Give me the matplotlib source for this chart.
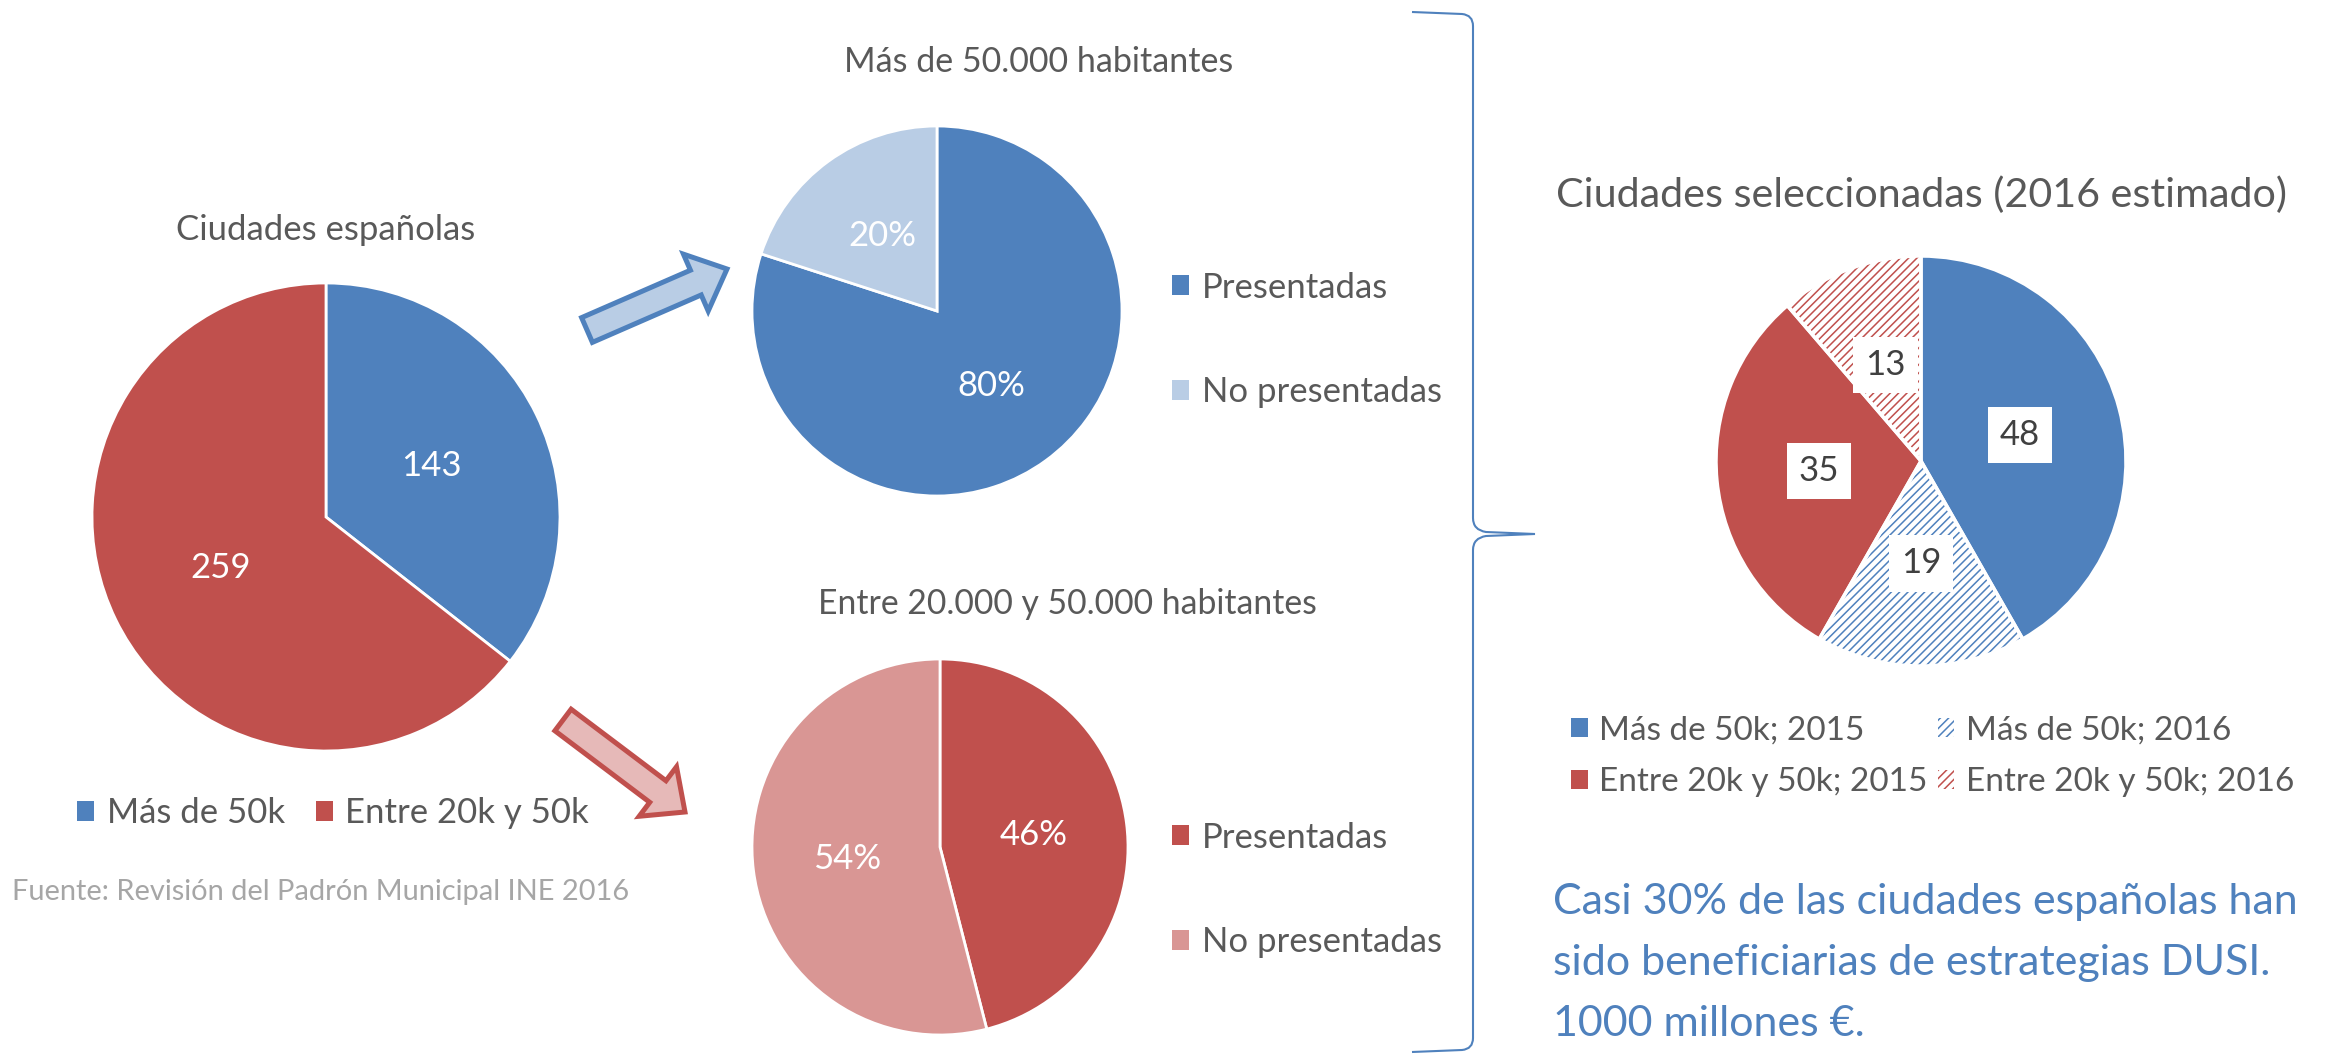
import matplotlib
matplotlib.use('Agg')
import matplotlib.pyplot as plt
from matplotlib.patches import FancyArrow, Patch, PathPatch
from matplotlib.path import Path

plt.rcParams['font.family'] = ['Lato', 'DejaVu Sans']
plt.rcParams['hatch.linewidth'] = 1.1

# ---- data ----
spain_title = 'Ciudades españolas'
spain_labels = ['Más de 50k', 'Entre 20k y 50k']
spain_counts = [143, 259]

big_title = 'Más de 50.000 habitantes'
big_labels = ['Presentadas', 'No presentadas']
big_pct = [80, 20]

mid_title = 'Entre 20.000 y 50.000 habitantes'
mid_labels = ['Presentadas', 'No presentadas']
mid_pct = [46, 54]

sel_title = 'Ciudades seleccionadas (2016 estimado)'
sel_labels = ['Más de 50k; 2015', 'Más de 50k; 2016',
              'Entre 20k y 50k; 2015', 'Entre 20k y 50k; 2016']
sel_counts = [48, 19, 35, 13]

note_lines = ['Casi 30% de las ciudades españolas han',
              'sido beneficiarias de estrategias DUSI.',
              '1000 millones €.']
source = 'Fuente: Revisión del Padrón Municipal INE 2016'

# ---- style ----
BLUE = '#4F81BD'
LBLUE = '#B9CDE5'
RED = '#C0504D'
LRED = '#D99694'
GREY = '#595959'
FS = 25

W, H = 2331, 1056
fig = plt.figure(figsize=(W / 100, H / 100), dpi=100)


def pie_axes(cx, cy, r, m=1.03):
    # square axes centred on (cx, cy) in pixels, pie radius r
    rr = r * m
    return fig.add_axes([(cx - rr) / W, 1 - (cy + rr) / H, 2 * rr / W, 2 * rr / H])


def finish(ax, m=1.03):
    ax.set_xlim(-m, m)
    ax.set_ylim(-m, m)
    ax.set_aspect('equal')
    ax.axis('off')


# left pie
ax1 = pie_axes(326, 517, 234)
tot1 = sum(spain_counts)
ax1.pie(spain_counts, colors=[BLUE, RED], startangle=90, counterclock=False,
        autopct=lambda p: f'{p * tot1 / 100:.0f}', pctdistance=0.5,
        textprops=dict(color='white', fontsize=FS),
        wedgeprops=dict(edgecolor='white', linewidth=2))
finish(ax1)

# top middle pie
ax2 = pie_axes(937, 311, 185)
ax2.pie(big_pct, colors=[BLUE, LBLUE], startangle=90, counterclock=False,
        autopct='%1.0f%%', pctdistance=0.5,
        textprops=dict(color='white', fontsize=FS),
        wedgeprops=dict(edgecolor='white', linewidth=2))
finish(ax2)

# bottom middle pie
ax3 = pie_axes(940, 847, 188)
ax3.pie(mid_pct, colors=[RED, LRED], startangle=90, counterclock=False,
        autopct='%1.0f%%', pctdistance=0.5,
        textprops=dict(color='white', fontsize=FS),
        wedgeprops=dict(edgecolor='white', linewidth=2))
finish(ax3)

# right pie, 2016 slices hatched
sel_colors = [BLUE, BLUE, RED, RED]
sel_hatch = [None, '////', None, '////']
ax4 = pie_axes(1921, 461, 205)
tot4 = sum(sel_counts)
wedges, _, autot = ax4.pie(sel_counts, colors=sel_colors, startangle=90, counterclock=False,
                           autopct=lambda p: f'{p * tot4 / 100:.0f}', pctdistance=0.5,
                           textprops=dict(color='#404040', fontsize=FS),
                           wedgeprops=dict(linewidth=0))
for w, c, h in zip(wedges, sel_colors, sel_hatch):
    if h:
        w.set_facecolor('white')
        w.set_edgecolor(c)
        w.set_hatch(h)
for t in autot:
    t.set_bbox(dict(boxstyle='square,pad=0.35', fc='white', ec='none'))
# white separators on top
ax4.pie(sel_counts, colors=['none'] * 4, startangle=90, counterclock=False,
        wedgeprops=dict(edgecolor='white', linewidth=2.5))
finish(ax4)

# overlay in pixel coords for annotations
ov = fig.add_axes([0, 0, 1, 1])
ov.set_xlim(0, W)
ov.set_ylim(H, 0)
ov.axis('off')

ov.text(326, 230, spain_title, ha='center', va='center', fontsize=25, color=GREY)
ov.text(1039, 62, big_title, ha='center', va='center', fontsize=24.5, color=GREY)
ov.text(1067, 604, mid_title, ha='center', va='center', fontsize=24.3, color=GREY)
ov.text(1921, 195, sel_title, ha='center', va='center', fontsize=29.7, color=GREY)
ov.text(12, 892, source, ha='left', va='center', fontsize=20.9, color='#A6A6A6')
for i, line in enumerate(note_lines):
    ov.text(1553, 902 + 61 * i, line, ha='left', va='center', fontsize=31, color=BLUE)

# arrows
ov.add_patch(FancyArrow(587, 330, 140, -61, width=27, head_width=62, head_length=34,
                        length_includes_head=True, fc=LBLUE, ec=BLUE, lw=3.6, joinstyle='miter'))
ov.add_patch(FancyArrow(563, 720, 122, 92, width=27, head_width=62, head_length=34,
                        length_includes_head=True, fc='#E6B9B8', ec=RED, lw=3.6, joinstyle='miter'))

# curly brace
M, L, C = Path.MOVETO, Path.LINETO, Path.CURVE3
verts = [(1412, 12), (1462, 14), (1473, 15), (1473, 26), (1473, 518), (1473, 530), (1486, 532),
         (1535, 534), (1486, 536), (1473, 538), (1473, 550), (1473, 1038), (1473, 1049),
         (1462, 1050), (1412, 1052)]
codes = [M, L, C, C, L, C, C, L, L, C, C, L, C, C, L]
ov.add_patch(PathPatch(Path(verts, codes), fc='none', ec=BLUE, lw=1.5))

# legends
leg_kw = dict(frameon=False, handlelength=0.5, handleheight=0.5,
              handletextpad=0.35, borderpad=0, borderaxespad=0, labelcolor=GREY,
              loc='center left', bbox_transform=ov.transData)
fig.legend([Patch(fc=c, ec='none') for c in [BLUE, RED]], spain_labels, fontsize=25,
           bbox_to_anchor=(77, 813), ncol=2, columnspacing=0.9, **leg_kw)
fig.legend([Patch(fc=c, ec='none') for c in [BLUE, LBLUE]], big_labels, fontsize=25,
           bbox_to_anchor=(1172, 340), labelspacing=2.1, **leg_kw)
fig.legend([Patch(fc=c, ec='none') for c in [RED, LRED]], mid_labels, fontsize=25,
           bbox_to_anchor=(1172, 890), labelspacing=2.1, **leg_kw)
sel_handles = [Patch(fc='white' if h else c, ec=c, hatch=h, lw=0)
               for c, h in zip(sel_colors, sel_hatch)]
order = [0, 2, 1, 3]
fig.legend([sel_handles[i] for i in order], [sel_labels[i] for i in order], fontsize=24,
           bbox_to_anchor=(1571, 756.5), ncol=2, labelspacing=0.65, columnspacing=0.3, **leg_kw)

fig.savefig('out.png', dpi=100)
